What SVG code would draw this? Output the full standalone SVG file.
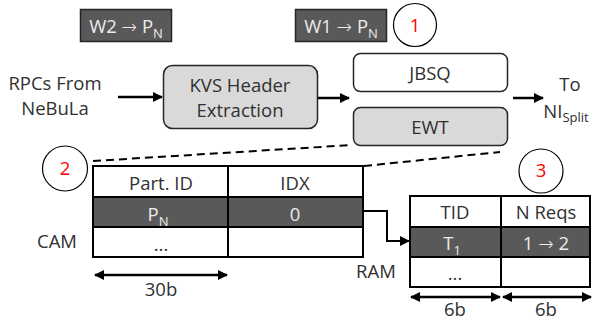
<svg xmlns="http://www.w3.org/2000/svg" width="592" height="324" viewBox="0 0 592 324">
<defs>
<marker id="ah" viewBox="0 0 10 10" refX="9" refY="5" markerWidth="10" markerHeight="10" markerUnits="userSpaceOnUse" orient="auto-start-reverse">
<path d="M0,0 L10,5 L0,10 z" fill="#000"/>
</marker>
</defs>
<style>
text{font-family:"Open Sans","Noto Sans",sans-serif;font-size:18.5px;fill:#303030;text-anchor:middle}
.ar{font-family:"DejaVu Sans",sans-serif;font-weight:200}
.lt{fill:#ececec}
.red{fill:#ff0000}
.tag{fill:#595959;stroke:#262626;stroke-width:1.5}
.box{stroke:#262626;stroke-width:1.5}
.cell{stroke:#000;stroke-width:2}
.dark{fill:#595959}
.circ{fill:#fff;stroke:#000;stroke-width:1.2}
.con{fill:none;stroke:#000;stroke-width:2.5}
.thin{fill:none;stroke:#000;stroke-width:2}
.dash{fill:none;stroke:#000;stroke-width:2;stroke-dasharray:8 5}
</style>

<g id="tag-w2">
<rect class="tag" x="80.5" y="9.5" width="91" height="32"/>
<text class="lt" x="126" y="33">W2 <tspan class="ar">→</tspan> P<tspan font-size="13" dy="5">N</tspan></text>
</g>
<g id="tag-w1">
<rect class="tag" x="295.5" y="9.5" width="91" height="32"/>
<text class="lt" x="341" y="33">W1 <tspan class="ar">→</tspan> P<tspan font-size="13" dy="5">N</tspan></text>
</g>
<g id="step1">
<circle class="circ" cx="415" cy="25" r="21.5"/>
<text class="red" x="415" y="32">1</text>
</g>

<g id="input-label">
<text x="55" y="90">RPCs From</text>
<text x="55" y="115">NeBuLa</text>
</g>
<g id="kvs">
<rect class="box" x="163.5" y="65.5" width="154" height="63" rx="9" fill="#d9d9d9"/>
<text x="240" y="92">KVS Header</text>
<text x="240" y="117">Extraction</text>
</g>
<g id="jbsq">
<rect class="box" x="353.5" y="53.5" width="154" height="38" rx="7" fill="#fff"/>
<text x="430" y="80">JBSQ</text>
</g>
<g id="ewt">
<rect class="box" x="353.5" y="107.5" width="154" height="38" rx="7" fill="#d9d9d9"/>
<text x="430" y="134">EWT</text>
</g>
<g id="output-label">
<text x="570" y="91">To</text>
<text x="566" y="118">NI<tspan font-size="13" dy="4">Split</tspan></text>
</g>

<g id="step2">
<circle class="circ" cx="65" cy="168.5" r="22.5"/>
<text class="red" x="65" y="175">2</text>
</g>
<g id="cam">
<rect x="93" y="197" width="270" height="30" class="dark"/>
<rect class="cell" x="93" y="166" width="270" height="91" fill="none"/>
<line class="cell" x1="93" y1="197" x2="363" y2="197"/>
<line class="cell" x1="93" y1="227" x2="363" y2="227"/>
<line class="cell" x1="228" y1="166" x2="228" y2="257"/>
<text x="161" y="190">Part. ID</text>
<text x="295" y="190">IDX</text>
<text class="lt" x="158" y="221">P<tspan font-size="13" dy="5">N</tspan></text>
<text class="lt" x="295" y="221">0</text>
<text x="161" y="251">...</text>
<text x="57" y="248">CAM</text>
<text x="161" y="296">30b</text>
</g>

<g id="step3">
<circle class="circ" cx="541" cy="171" r="22"/>
<text class="red" x="541" y="177">3</text>
</g>
<g id="ram">
<rect x="410" y="227" width="180" height="30" class="dark"/>
<rect class="cell" x="410" y="196" width="180" height="91" fill="none"/>
<line class="cell" x1="410" y1="227" x2="590" y2="227"/>
<line class="cell" x1="410" y1="257" x2="590" y2="257"/>
<line class="cell" x1="501" y1="196" x2="501" y2="287"/>
<text x="455" y="219">TID</text>
<text x="546" y="219">N Reqs</text>
<text class="lt" x="452" y="250">T<tspan font-size="13" dy="5">1</tspan></text>
<text class="lt" x="546" y="250">1 <tspan class="ar">→</tspan> 2</text>
<text x="455" y="280">...</text>
<text x="376" y="278">RAM</text>
<text x="455" y="316">6b</text>
<text x="546" y="316">6b</text>
</g>

<g id="connectors">
<line class="con" x1="118" y1="97" x2="162" y2="97" marker-end="url(#ah)"/>
<line class="con" x1="318" y1="98" x2="349" y2="98" marker-end="url(#ah)"/>
<line class="con" x1="513" y1="98" x2="543" y2="98" marker-end="url(#ah)"/>
<path class="dash" d="M93,161 L352,145"/>
<path class="dash" d="M364,166 L500,152"/>
<path class="thin" d="M363,211 H387 V241 H409" marker-end="url(#ah)"/>
<line class="con" x1="95" y1="275" x2="227" y2="275" marker-start="url(#ah)" marker-end="url(#ah)"/>
<line class="con" x1="411" y1="297" x2="500" y2="297" marker-start="url(#ah)" marker-end="url(#ah)"/>
<line class="con" x1="503" y1="297" x2="591" y2="297" marker-start="url(#ah)" marker-end="url(#ah)"/>
</g>
</svg>
